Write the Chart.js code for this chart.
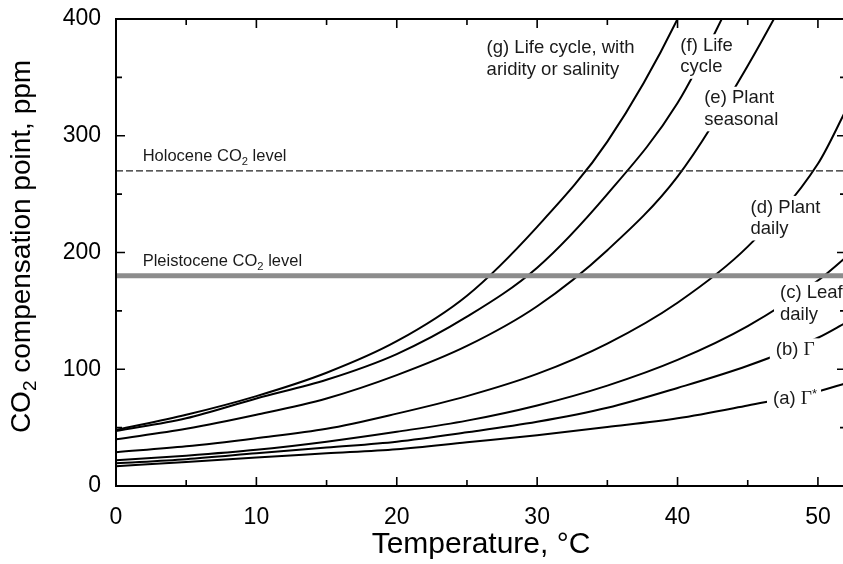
<!DOCTYPE html>
<html>
<head>
<meta charset="utf-8">
<script src="https://cdn.jsdelivr.net/npm/chart.js@4.4.1/dist/chart.umd.min.js"></script>
<style>
  html, body { margin: 0; padding: 0; background: #fff; overflow: hidden; }
</style>
</head>
<body>
<canvas id="chart" width="850" height="564"></canvas>
<script>
// temperature (°C) sample points shared by all curves
const temps = [0, 5, 10, 15, 20, 25, 30, 35, 40, 45, 50, 52];

// CO2 compensation point, ppm
const gLifeCycleArid = [48, 61, 77, 97, 124, 163, 222, 295, 400, 540, null, null];
const fLifeCycle     = [47, 58, 75, 91, 113, 145, 187, 250, 328, 445, null, null];
const ePlantSeasonal = [40, 49, 61, 75, 95, 120, 154, 202, 265, 360, 470, null];
const dPlantDaily    = [29, 34, 41, 49, 62, 77, 96, 122, 157, 205, 276, 322];
const cLeafDaily     = [22, 26, 31, 38, 46.5, 56, 69, 86, 108, 137, 176, 196];
const bGamma         = [19.5, 23, 28, 33, 38, 46, 55, 67, 84, 103, 127, 140];
const aGammaStar     = [17, 20.5, 24.5, 28, 31.5, 37.5, 43.5, 50.5, 58, 69, 81, 88];

const holoceneLevel = 270;
const pleistoceneLevel = 180;

const xTickLabels = [0, 10, 20, 30, 40, 50];
const xMinorTicks = [5, 15, 25, 35, 45];
const yTickLabels = [0, 100, 200, 300, 400];
const yMinorTicks = [50, 150, 250, 350];

const SANS = '"Liberation Sans", Arial, Helvetica, sans-serif';
const SERIF = '"Liberation Serif", "Times New Roman", serif';

const toPoints = vals => temps.map((t, i) => ({ x: t, y: vals[i] }));
const flat = v => [{ x: 0, y: v }, { x: 52, y: v }];

const curve = (label, vals) => ({
    label: label,
    data: toPoints(vals),
    borderColor: '#000',
    borderWidth: 2,
    pointRadius: 0,
    cubicInterpolationMode: 'monotone',
    fill: false
});

// text labels on the plot, anchored in data units (left edge, middle of first line)
const s = (text, style) => ({ text: text, style: style || 'sans' });
const plotLabels = [
    { t: 1.9, y: 282, size: 16.5, box: false, lines: [[s('Holocene CO'), s('2', 'sub'), s(' level')]] },
    { t: 1.9, y: 192, size: 16.5, box: false, lines: [[s('Pleistocene CO'), s('2', 'sub'), s(' level')]] },
    { t: 26.4, y: 375, size: 18.5, box: false, lines: [[s('(g) Life cycle, with')], [s('aridity or salinity')]] },
    { t: 40.2, y: 377, size: 18.5, box: true, lines: [[s('(f) Life')], [s('cycle')]] },
    { t: 41.9, y: 332, size: 18.5, box: true, lines: [[s('(e) Plant')], [s('seasonal')]] },
    { t: 45.2, y: 238.5, size: 18.5, box: true, lines: [[s('(d) Plant')], [s('daily')]] },
    { t: 47.3, y: 165, size: 18.5, box: true, lines: [[s('(c) Leaf')], [s('daily')]] },
    { t: 47.0, y: 116.5, size: 18.5, box: true, lines: [[s('(b) '), s('Γ', 'serif')]] },
    { t: 46.8, y: 74.3, size: 18.5, box: true, lines: [[s('(a) '), s('Γ', 'serif'), s('*', 'sup')]] }
];

function partFont(p, size) {
    if (p.style === 'sub') return { f: (size * 0.68) + 'px ' + SANS, dy: size * 0.3 };
    if (p.style === 'sup') return { f: (size * 0.7) + 'px ' + SANS, dy: -size * 0.25 };
    if (p.style === 'serif') return { f: (size * 1.05) + 'px ' + SERIF, dy: 0 };
    return { f: size + 'px ' + SANS, dy: 0 };
}

function richWidth(ctx, parts, size) {
    let w = 0;
    parts.forEach(p => { ctx.font = partFont(p, size).f; w += ctx.measureText(p.text).width; });
    return w;
}

function drawRich(ctx, x, y, parts, size) {
    let cx = x;
    parts.forEach(p => {
        const pf = partFont(p, size);
        ctx.font = pf.f;
        ctx.fillText(p.text, cx, y + pf.dy);
        cx += ctx.measureText(p.text).width;
    });
}

const annotations = {
    id: 'annotations',
    afterDatasetsDraw(chart) {
        const { ctx, scales: { x, y } } = chart;
        ctx.save();
        ctx.textBaseline = 'middle';
        ctx.textAlign = 'left';
        plotLabels.forEach(lab => {
            const px = x.getPixelForValue(lab.t);
            const py0 = y.getPixelForValue(lab.y);
            const lh = lab.size * 1.15;
            lab.lines.forEach((parts, i) => {
                const py = py0 + i * lh;
                if (lab.box) {
                    const w = richWidth(ctx, parts, lab.size);
                    ctx.fillStyle = '#fff';
                    ctx.fillRect(px - 6, py - lh / 2 - 1, w + 10, lh + 2);
                }
            });
            ctx.fillStyle = '#1a1a1a';
            lab.lines.forEach((parts, i) => drawRich(ctx, px, py0 + i * lh, parts, lab.size));
        });

        // y axis title with subscript
        const a = chart.chartArea;
        const title = [s('CO'), s('2', 'sub'), s(' compensation point, ppm')];
        const size = 28;
        const w = richWidth(ctx, title, size);
        ctx.translate(22, (a.top + a.bottom) / 2 - 6);
        ctx.rotate(-Math.PI / 2);
        ctx.fillStyle = '#000';
        drawRich(ctx, -w / 2, 0, title, size);
        ctx.restore();
    },
    afterDraw(chart) {
        const { ctx, chartArea: a, scales: { x, y } } = chart;
        ctx.save();
        ctx.strokeStyle = '#000';
        ctx.lineWidth = 2;
        ctx.strokeRect(a.left, a.top, a.right - a.left, a.bottom - a.top);
        ctx.lineWidth = 1.6;
        ctx.beginPath();
        const xt = (v, len) => {
            const p = x.getPixelForValue(v);
            ctx.moveTo(p, a.bottom); ctx.lineTo(p, a.bottom - len);
            ctx.moveTo(p, a.top); ctx.lineTo(p, a.top + len);
        };
        const yt = (v, len) => {
            const p = y.getPixelForValue(v);
            ctx.moveTo(a.left, p); ctx.lineTo(a.left + len, p);
            ctx.moveTo(a.right, p); ctx.lineTo(a.right - len, p);
        };
        xTickLabels.forEach(v => xt(v, 9));
        xMinorTicks.forEach(v => xt(v, 6));
        yTickLabels.forEach(v => yt(v, 9));
        yMinorTicks.forEach(v => yt(v, 6));
        ctx.stroke();
        ctx.restore();
    }
};

new Chart(document.getElementById('chart').getContext('2d'), {
    type: 'line',
    data: {
        datasets: [
            {
                label: 'Pleistocene CO2 level',
                data: flat(pleistoceneLevel),
                borderColor: '#8c8c8c',
                borderWidth: 5,
                pointRadius: 0
            },
            {
                label: 'Holocene CO2 level',
                data: flat(holoceneLevel),
                borderColor: '#222',
                borderWidth: 1.2,
                borderDash: [7, 3],
                pointRadius: 0
            },
            curve('(g) Life cycle, with aridity or salinity', gLifeCycleArid),
            curve('(f) Life cycle', fLifeCycle),
            curve('(e) Plant seasonal', ePlantSeasonal),
            curve('(d) Plant daily', dPlantDaily),
            curve('(c) Leaf daily', cLeafDaily),
            curve('(b) Γ', bGamma),
            curve('(a) Γ*', aGammaStar)
        ]
    },
    options: {
        responsive: false,
        animation: false,
        devicePixelRatio: 1,
        layout: { padding: { top: 19, right: 4, left: 0, bottom: 0 } },
        plugins: { legend: { display: false }, tooltip: { enabled: false } },
        scales: {
            x: {
                type: 'linear',
                min: 0,
                max: 52,
                afterFit: sc => { sc.height = 78; sc.paddingLeft = 0; sc.paddingRight = 0; },
                grid: { display: false, drawTicks: false },
                border: { display: false },
                ticks: {
                    stepSize: 10,
                    includeBounds: false,
                    padding: 18,
                    color: '#000',
                    font: { family: SANS, size: 23 }
                },
                title: {
                    display: true,
                    text: 'Temperature, °C',
                    color: '#000',
                    font: { family: SANS, size: 30 },
                    padding: { top: 0, bottom: 1 }
                }
            },
            y: {
                min: 0,
                max: 400,
                afterFit: sc => { sc.width = 116; sc.paddingTop = 0; sc.paddingBottom = 0; },
                grid: { display: false, drawTicks: false },
                border: { display: false },
                ticks: {
                    stepSize: 100,
                    padding: 15,
                    color: '#000',
                    font: { family: SANS, size: 23 }
                }
            }
        }
    },
    plugins: [annotations]
});
</script>
</body>
</html>
